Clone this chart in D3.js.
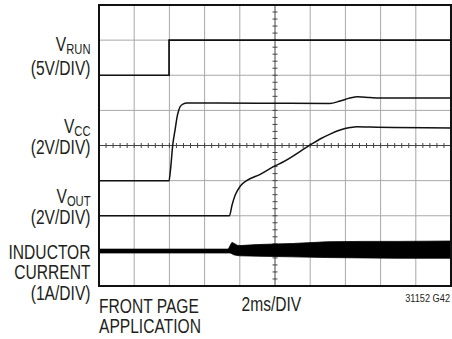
<!DOCTYPE html>
<html>
<head>
<meta charset="utf-8">
<script src="https://cdn.jsdelivr.net/npm/d3@7"></script>
<style>
  html, body { margin: 0; padding: 0; background: #fff; }
  svg { display: block; }
  text { font-family: "Liberation Sans", Arial, sans-serif; fill: #231f20; }
</style>
</head>
<body>
<svg id="chart" width="452" height="339"></svg>
<script>
// ---- Data (time in ms, values in channel units) ----
const timeDomainMs = [0, 20];          // 2ms/DIV x 10 divisions
const divRange = [-4, 4];              // 8 vertical divisions

// V_RUN, 5V/DIV, ground at +2 div
const vrun = [[0, 0], [3.98, 0], [3.98, 5], [20, 5]];
// V_CC, 2V/DIV, ground at -1 div
const vcc = [[0, 0], [3.98, 0], [4.06, 0.6], [4.19, 2.03], [4.32, 2.88], [4.46, 3.74],
  [4.6, 4.19], [4.77, 4.36], [5.0, 4.42], [9, 4.41], [13.1, 4.39], [13.7, 4.53],
  [14.25, 4.70], [14.7, 4.78], [15.4, 4.73], [16, 4.70], [20, 4.70]];
// V_OUT, 2V/DIV, ground at -2 div
const vout = [[0, 0], [7.41, 0], [7.56, 0.61], [7.74, 1.18], [8.03, 1.69], [8.41, 2.01],
  [9.16, 2.36], [10.02, 2.85], [10.4, 3.03], [12.0, 4.03], [12.56, 4.37], [13.13, 4.65],
  [13.7, 4.88], [14.26, 5.02], [14.66, 5.07], [15.4, 5.05], [20, 5.0]];
// Inductor current envelope [t, max A, min A], 1A/DIV, ground at -3 div
const iL = [[0, 0.05, -0.06], [7.35, 0.05, -0.06], [7.45, 0.15, -0.06], [7.55, 0.24, -0.08],
  [7.65, 0.22, -0.11], [7.85, 0.16, -0.13], [8.0, 0.15, -0.14], [9, 0.18, -0.15],
  [11, 0.21, -0.17], [13, 0.26, -0.19], [15, 0.27, -0.2], [17, 0.27, -0.21], [20, 0.28, -0.21]];

const channels = [
  { name: "V", sub: "RUN", scaleLabel: "(5V/DIV)", vPerDiv: 5, groundDiv: 2 },
  { name: "V", sub: "CC", scaleLabel: "(2V/DIV)", vPerDiv: 2, groundDiv: -1 },
  { name: "V", sub: "OUT", scaleLabel: "(2V/DIV)", vPerDiv: 2, groundDiv: -2 },
  { name: "INDUCTOR", sub: "", scaleLabel: "(1A/DIV)", vPerDiv: 1, groundDiv: -3 }
];
const inductorLines = ["INDUCTOR", "CURRENT", "(1A/DIV)"];
const bottomLabels = ["FRONT PAGE", "APPLICATION"];
const timebaseLabel = "2ms/DIV";
const figureCode = "31152 G42";

// ---- Drawing ----
const svg = d3.select("#chart");
const L = 99, R = 451, T = 5, B = 286;
const x = d3.scaleLinear().domain(timeDomainMs).range([L, R]);
const y = d3.scaleLinear().domain(divRange).range([B, T]);
const toDiv = (ch, v) => ch.groundDiv + v / ch.vPerDiv;

const grid = svg.append("g");
const xDivs = d3.range(timeDomainMs[0] + 2, timeDomainMs[1], 2);
const yDivs = d3.range(divRange[0] + 1, divRange[1], 1);
grid.selectAll("line.v").data(xDivs.filter(d => d !== 10)).join("line")
  .attr("x1", d => x(d)).attr("x2", d => x(d)).attr("y1", T).attr("y2", B)
  .attr("stroke", "#a8a8a8").attr("stroke-width", 1);
grid.selectAll("line.h").data(yDivs.filter(d => d !== 0)).join("line")
  .attr("y1", d => y(d)).attr("y2", d => y(d)).attr("x1", L).attr("x2", R)
  .attr("stroke", "#a8a8a8").attr("stroke-width", 1);
grid.append("line").attr("x1", x(10)).attr("x2", x(10)).attr("y1", T).attr("y2", B)
  .attr("stroke", "#444").attr("stroke-width", 1);
grid.append("line").attr("y1", y(0)).attr("y2", y(0)).attr("x1", L).attr("x2", R)
  .attr("stroke", "#444").attr("stroke-width", 1);
const xMinor = d3.range(timeDomainMs[0], timeDomainMs[1] + 0.001, 0.4);
const yMinor = d3.range(divRange[0], divRange[1] + 0.001, 0.2);
grid.selectAll("line.xt").data(xMinor).join("line")
  .attr("x1", d => x(d)).attr("x2", d => x(d)).attr("y1", y(0) - 2.5).attr("y2", y(0) + 2.5)
  .attr("stroke", "#444").attr("stroke-width", 1);
grid.selectAll("line.yt").data(yMinor).join("line")
  .attr("y1", d => y(d)).attr("y2", d => y(d)).attr("x1", x(10) - 2.5).attr("x2", x(10) + 2.5)
  .attr("stroke", "#444").attr("stroke-width", 1);

// traces
const traces = svg.append("g");
const lineFor = (ch, curve) => d3.line().x(d => x(d[0])).y(d => y(toDiv(ch, d[1]))).curve(curve);
traces.append("path").attr("d", lineFor(channels[0], d3.curveLinear)(vrun))
  .attr("fill", "none").attr("stroke", "#111").attr("stroke-width", 1.7);
traces.append("path").attr("d", lineFor(channels[1], d3.curveMonotoneX)(vcc))
  .attr("fill", "none").attr("stroke", "#111").attr("stroke-width", 1.5);
traces.append("path").attr("d", lineFor(channels[2], d3.curveMonotoneX)(vout))
  .attr("fill", "none").attr("stroke", "#111").attr("stroke-width", 1.5);
const area = d3.area().x(d => x(d[0]))
  .y0(d => y(toDiv(channels[3], d[2]))).y1(d => y(toDiv(channels[3], d[1])));
traces.append("path").attr("d", area(iL))
  .attr("fill", "#000").attr("stroke", "#000").attr("stroke-width", 0.8);

// frame
svg.append("rect").attr("x", L).attr("y", T).attr("width", R - L).attr("height", B - T)
  .attr("fill", "none").attr("stroke", "#111").attr("stroke-width", 2);

// condensed text helper (horizontal squeeze emulates a narrow typeface)
const SQ = 0.8;
function addText(px, py, anchor, size) {
  return svg.append("g").attr("transform", `translate(${px},${py}) scale(${SQ},1)`)
    .append("text").attr("x", 0).attr("y", 0).attr("text-anchor", anchor).attr("font-size", size);
}

const labX = 90.5, fs = 19.5, subFs = 14;
const labelRows = [
  { ch: channels[0], lines: [51, 74.5] },
  { ch: channels[1], lines: [133, 153.5] },
  { ch: channels[2], lines: [203, 223.5] }
];
labelRows.forEach(r => {
  const t = addText(labX, r.lines[0], "end", fs);
  t.append("tspan").text(r.ch.name);
  t.append("tspan").attr("dy", 3).attr("font-size", subFs).text(r.ch.sub);
  addText(labX, r.lines[1], "end", fs).text(r.ch.scaleLabel);
});
inductorLines.forEach((s, i) => addText(labX, 259 + i * 20.3, "end", fs).text(s));
bottomLabels.forEach((s, i) => addText(99, 313 + i * 20.3, "start", fs).text(s));
addText(241.5, 310.5, "start", fs).text(timebaseLabel);
addText(450, 301.5, "end", 11.5).text(figureCode);
</script>
</body>
</html>
